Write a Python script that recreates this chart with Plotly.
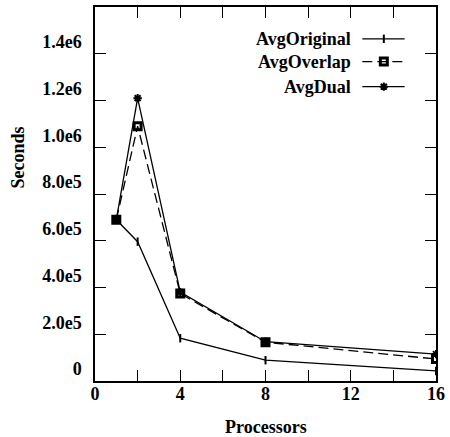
import plotly.graph_objects as go

processors = [1, 2, 4, 8, 16]
avg_original = [6.9e5, 5.96e5, 1.83e5, 0.89e5, 0.43e5]
avg_overlap = [6.9e5, 1.09e6, 3.74e5, 1.66e5, 0.94e5]
avg_dual = [6.9e5, 1.21e6, 3.80e5, 1.68e5, 1.15e5]

series_names = ["AvgOriginal", "AvgOverlap", "AvgDual"]
x_tickvals = [0, 2, 4, 6, 8, 10, 12, 14, 16]
x_ticktext = ["0", "", "4", "", "8", "", "12", "", "16"]
y_tickvals = [0, 2e5, 4e5, 6e5, 8e5, 1.0e6, 1.2e6, 1.4e6]
y_ticktext = ["0", "2.0e5", "4.0e5", "6.0e5", "8.0e5", "1.0e6", "1.2e6", "1.4e6"]

FONT = "Times New Roman, Liberation Serif, serif"
styles = [
    dict(dash="solid", symbol="line-ns", size=6, mlw=2),
    dict(dash="10px,5px", symbol="square-open", size=7, mlw=3),
    dict(dash="solid", symbol="asterisk-open", size=7, mlw=2),
]
data = [avg_original, avg_overlap, avg_dual]

fig = go.Figure()
for name, ys, st in zip(series_names, data, styles):
    fig.add_trace(go.Scatter(
        x=processors, y=ys, name=name, mode="lines+markers",
        line=dict(color="black", width=1.3, dash=st["dash"]),
        marker=dict(symbol=st["symbol"], size=st["size"], color="black",
                    line=dict(color="black", width=st["mlw"])),
        showlegend=False,
    ))

# custom legend (text left, sample right) on an overlay axis
leg_y = [0.915, 0.854, 0.787]
for name, st, ly in zip(series_names, styles, leg_y):
    fig.add_trace(go.Scatter(
        x=[0.784, 0.908], y=[ly, ly], xaxis="x2", yaxis="y2", mode="lines",
        line=dict(color="black", width=1.3, dash=st["dash"]),
        showlegend=False, hoverinfo="skip",
    ))
    fig.add_trace(go.Scatter(
        x=[0.847], y=[ly], xaxis="x2", yaxis="y2", mode="markers",
        marker=dict(symbol=st["symbol"], size=st["size"], color="black",
                    line=dict(color="black", width=st["mlw"])),
        showlegend=False, hoverinfo="skip",
    ))
    fig.add_annotation(x=0.758, y=ly, xref="x2", yref="y2", text="<b>%s</b>" % name,
                       showarrow=False, xanchor="right", yanchor="middle",
                       font=dict(family=FONT, size=18, color="black"))

axis_common = dict(showline=True, linecolor="black", linewidth=1.5, mirror="allticks",
                   ticks="inside", ticklen=11, tickwidth=1.2, tickcolor="black",
                   showgrid=False, zeroline=False, ticklabeloverflow="allow",
                   tickfont=dict(family=FONT, size=18, color="black"))

fig.update_layout(
    width=450, height=437,
    margin=dict(l=95, r=8, t=5, b=56),
    plot_bgcolor="white", paper_bgcolor="white",
    xaxis=dict(range=[0, 16], tickmode="array", tickvals=x_tickvals,
               ticktext=["<b>%s</b>" % t if t else "" for t in x_ticktext],
               ticklabelstandoff=-4, **axis_common),
    yaxis=dict(range=[0, 1.6e6], tickmode="array", tickvals=y_tickvals,
               ticktext=["<b>%s</b>" % t for t in y_ticktext],
               ticklabelshift=-12, ticklabelstandoff=8, **axis_common),
    xaxis2=dict(overlaying="x", range=[0, 1], visible=False),
    yaxis2=dict(overlaying="y", range=[0, 1], visible=False),
)
fig.add_annotation(text="<b>Processors</b>", x=0.5, y=(381 - 427) / 376, xref="paper", yref="paper",
                   showarrow=False, xanchor="center", yanchor="middle",
                   font=dict(family=FONT, size=18, color="black"))
fig.add_annotation(text="<b>Seconds</b>", x=(17 - 95) / 347, y=(381 - 156) / 376,
                   xref="paper", yref="paper",
                   showarrow=False, textangle=-90, xanchor="center", yanchor="middle",
                   font=dict(family=FONT, size=18, color="black"))

fig.write_html("out.html")
